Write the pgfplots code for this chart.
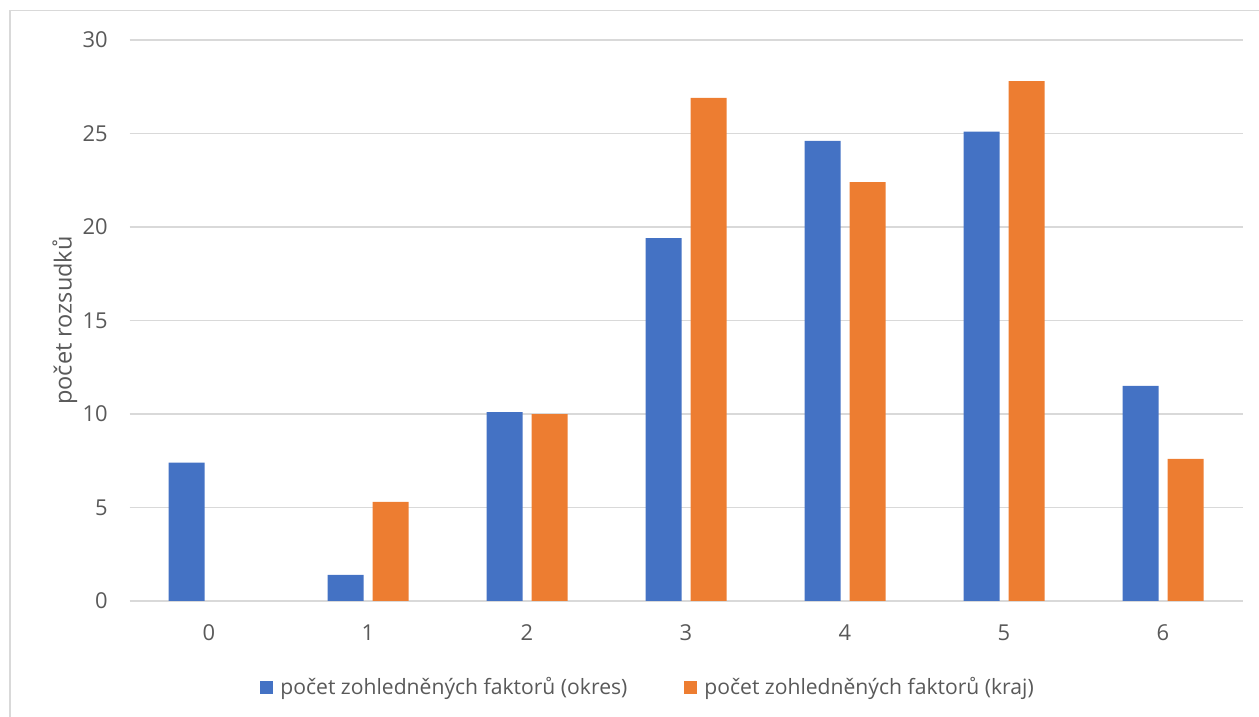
\documentclass[border=0pt]{standalone}
\usepackage{fontspec}
\setmainfont{Open Sans}
\usepackage{pgfplots}
\pgfplotsset{compat=1.18}
\definecolor{okres}{HTML}{4472C4}
\definecolor{kraj}{HTML}{ED7D31}
\definecolor{gridgray}{HTML}{D9D9D9}
\definecolor{txt}{HTML}{595959}
\begin{document}
\begin{tikzpicture}
\useasboundingbox (0,0) rectangle (629.5bp,358.5bp);
% chart area frame (left and top edges)
\draw[line width=0.7bp, gridgray] (5bp,-2bp) -- (5bp,353.25bp) -- (632bp,353.25bp);
\begin{axis}[
  at={(64.75bp,58bp)}, anchor=south west,
  scale only axis, width=556.5bp, height=280.5bp,
  xmin=-0.5, xmax=6.5, ymin=0, ymax=30,
  ybar=4.5bp, bar width=18bp,
  axis line style={draw=none},
  major tick length=0pt,
  xtick={0,...,6}, ytick={0,5,...,30},
  ymajorgrids, grid style={gridgray, line width=0.7bp},
  /pgf/number format/assume math mode=true,
  tick label style={font=\fontsize{11}{13}\selectfont, text=txt},
  yticklabel style={anchor=east, inner sep=0pt, xshift=-10.75bp},
  xticklabel style={anchor=center, inner sep=0pt, yshift=-16bp},
  ylabel={počet rozsudků},
  every axis y label/.style={at={(axis description cs:-0.058,0.5)}, rotate=90, anchor=center,
    font=\fontsize{11.8}{14}\selectfont, text=txt},
  legend columns=2,
  legend cell align=left,
  legend image code/.code={\fill[#1] (0bp,-3.25bp) rectangle (6.5bp,3.25bp);},
  legend style={draw=none, fill=none, inner sep=0pt,
    at={(axis description cs:0.1173,-0.1533)}, anchor=west,
    font=\fontsize{10.6}{13}\selectfont, text=txt,
    nodes={inner xsep=3.5bp, inner ysep=0pt},
    /tikz/every even column/.append style={column sep=25bp}},
]
\addplot[fill=okres, draw=none] coordinates {(0,7.4) (1,1.4) (2,10.1) (3,19.4) (4,24.6) (5,25.1) (6,11.5)};
\addplot[fill=kraj, draw=none] coordinates {(1,5.3) (2,10.0) (3,26.9) (4,22.4) (5,27.8) (6,7.6)};
\legend{počet zohledněných faktorů (okres), počet zohledněných faktorů (kraj)}
\end{axis}
\end{tikzpicture}
\end{document}
